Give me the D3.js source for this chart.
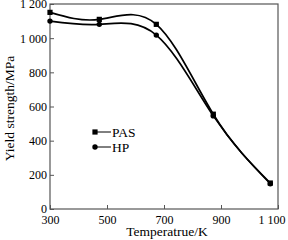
<!DOCTYPE html>
<html>
<head>
<meta charset="utf-8">
<script src="https://cdn.jsdelivr.net/npm/d3@7"></script>
<style>
  html, body { margin: 0; padding: 0; background: #fff; overflow: hidden; }
  svg { display: block; }
  text { font-family: "Liberation Serif", "Times New Roman", serif; fill: #000; }
</style>
</head>
<body>
<svg id="chart" width="288" height="240"></svg>
<script>
const temps = [300, 473, 673, 873, 1073];
const pasValues = [1151, 1110, 1081, 555, 152];
const hpValues = [1100, 1081, 1018, 545, 148];
const xTicks = [300, 500, 700, 900, 1100];
const yTicks = [0, 200, 400, 600, 800, 1000, 1200];

const svg = d3.select('#chart');
const margin = {left: 50, right: 10, top: 4, bottom: 31};
const width = 288, height = 240;
const innerWidth = width - margin.left - margin.right;
const innerHeight = height - margin.top - margin.bottom;

const g = svg.append('g')
  .attr('transform', `translate(${margin.left}, ${margin.top})`);

const x = d3.scaleLinear().domain([300, 1100]).range([0, innerWidth]);
const y = d3.scaleLinear().domain([0, 1200]).range([innerHeight, 0]);

const fmt = d => d >= 1000 ? String(d).replace(/(\d)(\d{3})$/, '$1 $2') : String(d);

// axes, ticks pointing inward
const xAxis = d3.axisBottom(x).tickValues(xTicks).tickSize(-4).tickPadding(6).tickFormat(fmt);
const yAxis = d3.axisLeft(y).tickValues(yTicks).tickSize(-4).tickPadding(3).tickFormat(fmt);

const xg = g.append('g').attr('transform', `translate(0, ${innerHeight})`).call(xAxis);
const yg = g.append('g').call(yAxis);
[xg, yg].forEach(a => {
  a.select('.domain').remove();
  a.selectAll('line').attr('stroke', '#555');
  a.selectAll('text').style('font-size', '12px').style('font-family', '"Liberation Serif", serif');
});
// last x label sits right at the edge, keep it inside the page
xg.selectAll('.tick text').filter(d => d === 1100)
  .attr('text-anchor', 'end').attr('x', 7);

// frame
g.append('rect')
  .attr('width', innerWidth).attr('height', innerHeight)
  .attr('fill', 'none').attr('stroke', '#555').attr('stroke-width', 1.2);

const line = d3.line()
  .x((d, i) => x(temps[i]))
  .y(d => y(d))
  .curve(d3.curveNatural);

const series = [
  {name: 'PAS', values: pasValues, marker: 'square'},
  {name: 'HP', values: hpValues, marker: 'circle'}
];

series.forEach(s => {
  g.append('path')
    .attr('d', line(s.values))
    .attr('fill', 'none')
    .attr('stroke', '#000')
    .attr('stroke-width', 1.7);

  s.values.forEach((v, i) => {
    if (s.marker === 'square') {
      g.append('rect')
        .attr('x', x(temps[i]) - 2.6).attr('y', y(v) - 2.6)
        .attr('width', 5.2).attr('height', 5.2).attr('fill', '#000');
    } else {
      g.append('circle')
        .attr('cx', x(temps[i])).attr('cy', y(v)).attr('r', 2.7).attr('fill', '#000');
    }
  });
});

// legend
const legend = svg.append('g').attr('transform', 'translate(95, 132)');
series.forEach((s, i) => {
  const ly = i * 15;
  legend.append('line')
    .attr('x1', 0).attr('x2', 16).attr('y1', ly).attr('y2', ly)
    .attr('stroke', '#000').attr('stroke-width', 1);
  if (s.marker === 'square') {
    legend.append('rect').attr('x', -2.6).attr('y', ly - 2.6)
      .attr('width', 5.2).attr('height', 5.2).attr('fill', '#000');
  } else {
    legend.append('circle').attr('cx', 0).attr('cy', ly).attr('r', 2.7).attr('fill', '#000');
  }
  legend.append('text')
    .attr('x', 17).attr('y', ly + 5)
    .style('font-size', '13.5px')
    .text(s.name);
});

// axis titles
svg.append('text')
  .attr('x', margin.left + innerWidth / 2 + 3).attr('y', 236)
  .attr('text-anchor', 'middle')
  .style('font-size', '13.5px')
  .text('Temperatrue/K');

svg.append('text')
  .attr('transform', `translate(14, ${margin.top + innerHeight / 2 + 2}) rotate(-90)`)
  .attr('text-anchor', 'middle')
  .style('font-size', '13.5px')
  .text('Yield strength/MPa');
</script>
</body>
</html>
